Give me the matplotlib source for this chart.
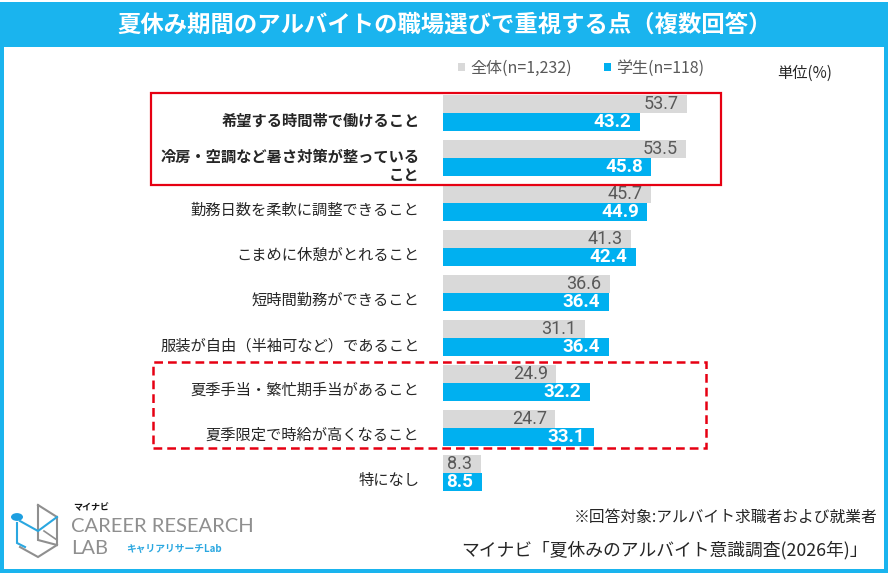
import matplotlib
matplotlib.use('Agg')
import matplotlib.pyplot as plt
from matplotlib.patches import Rectangle, Circle, Patch
from matplotlib.lines import Line2D

plt.rcParams['font.family'] = ['Noto Sans CJK JP', 'DejaVu Sans']

# ---------------- data ----------------
categories = [
    '希望する時間帯で働けること',
    '冷房・空調など暑さ対策が整っている\nこと',
    '勤務日数を柔軟に調整できること',
    'こまめに休憩がとれること',
    '短時間勤務ができること',
    '服装が自由（半袖可など）であること',
    '夏季手当・繁忙期手当があること',
    '夏季限定で時給が高くなること',
    '特になし',
]
overall = [53.7, 53.5, 45.7, 41.3, 36.6, 31.1, 24.9, 24.7, 8.3]
students = [43.2, 45.8, 44.9, 42.4, 36.4, 36.4, 32.2, 33.1, 8.5]
bold_rows = [0, 1]
series_labels = ['全体(n=1,232)', '学生(n=118)']

title = '夏休み期間のアルバイトの職場選びで重視する点（複数回答）'
unit_label = '単位(%)'
note = '※回答対象:アルバイト求職者および就業者'
source = 'マイナビ「夏休みのアルバイト意識調査(2026年)」'

# ---------------- style ----------------
FRAME_BLUE = '#1ab4ee'
BAR_BLUE = '#00b0f0'
BAR_GRAY = '#d9d9d9'
TEXT_GRAY = '#595959'
RED = '#e60012'
NUM_FONT = ['Roboto', 'DejaVu Sans']

W, H = 890, 581
fig = plt.figure(figsize=(W / 100, H / 100), dpi=100)


def fx(x):
    return x / W


def fy(y):
    return 1 - y / H


def frect(x0, y0, x1, y1, **kw):
    r = Rectangle((fx(x0), fy(y1)), (x1 - x0) / W, (y1 - y0) / H,
                  transform=fig.transFigure, **kw)
    fig.patches.append(r)
    return r


# frame and title band
frect(0, 2, 888, 573, facecolor=FRAME_BLUE, edgecolor='none', zorder=-3)
frect(4, 47, 884, 569, facecolor='white', edgecolor='none', zorder=-2)
fig.text(0.5, fy(25), title, ha='center', va='center', color='white',
         fontsize=16.8, fontweight='bold')

# ---------------- bar axes ----------------
px_per_unit = 4.55
x_left, row0, pitch = 443, 113, 45
top_px, bot_px = 90, 500
xmax = 60
ax = fig.add_axes([fx(x_left), fy(bot_px), xmax * px_per_unit / W, (bot_px - top_px) / H])
ax.set_facecolor('none')
ax.set_xlim(0, xmax)
ax.set_ylim((bot_px - row0) / pitch, (top_px - row0) / pitch)
ax.axis('off')

n = len(categories)
ys = list(range(n))
bh = 0.4
ax.barh([y - bh / 2 for y in ys], overall, height=bh, color=BAR_GRAY, zorder=2)
ax.barh([y + bh / 2 for y in ys], students, height=bh, color=BAR_BLUE, zorder=2)

for i, (a, s) in enumerate(zip(overall, students)):
    ax.annotate(f'{a:.1f}', xy=(a, i - bh / 2), xytext=(-6, 0), textcoords='offset points',
                ha='right', va='center', fontsize=13, color=TEXT_GRAY,
                family=NUM_FONT, zorder=3)
    ax.annotate(f'{s:.1f}', xy=(s, i + bh / 2), xytext=(-6, 0), textcoords='offset points',
                ha='right', va='center', fontsize=13.5, color='white', fontweight='bold',
                family=NUM_FONT, zorder=3)
    ax.annotate(categories[i], xy=(0, i + 0.17), xytext=(-17, 0), textcoords='offset points',
                ha='right', va='center', fontsize=11, color='#262626',
                fontweight='bold' if i in bold_rows else 'normal',
                linespacing=1.15, annotation_clip=False)

# highlight boxes
frect(151, 93, 721, 185, fill=False, edgecolor=RED, linewidth=1.6, zorder=5)
frect(153, 362, 706, 448, fill=False, edgecolor=RED, linewidth=1.8,
      linestyle=(0, (3.5, 2)), zorder=5)

# legend
handles = [Patch(facecolor=BAR_GRAY, edgecolor='none'), Patch(facecolor=BAR_BLUE, edgecolor='none')]
fig.legend(handles, series_labels, loc='center', bbox_to_anchor=(fx(581), fy(68)),
           ncol=2, frameon=False, fontsize=11.5, labelcolor=TEXT_GRAY,
           handlelength=0.45, handleheight=0.45, handletextpad=0.3, columnspacing=2.0)
fig.text(fx(805), fy(73), unit_label, ha='center', va='center', fontsize=11, color='#262626')

# footer texts
fig.text(fx(877), fy(517), note, ha='right', va='center', fontsize=11.3, color='#262626')
fig.text(fx(868), fy(550), source, ha='right', va='center', fontsize=12.8, color='#262626')

# logo
LOGO_GRAY = '#8f8f8f'


def fline(pts, color, lw):
    xs = [fx(p[0]) for p in pts]
    ys_ = [fy(p[1]) for p in pts]
    fig.lines.append(Line2D(xs, ys_, transform=fig.transFigure, color=color, lw=lw,
                            solid_joinstyle='miter'))


fline([(38, 505), (57, 517), (57, 545), (38, 557), (20, 547)], LOGO_GRAY, 1.5)
fline([(38, 505), (38, 540), (57, 545)], LOGO_GRAY, 1.5)
fline([(44, 531), (57, 540)], LOGO_GRAY, 1.2)
fline([(17, 523), (17, 543), (25, 547)], '#2aa7e0', 1.5)
fline([(20, 521), (38, 531), (57, 517)], '#2aa7e0', 1.5)
fig.patches.append(Circle((fx(17), fy(517)), 6 / W, transform=fig.transFigure,
                          facecolor='#1e9fe0', edgecolor='none'))
fig.text(fx(73), fy(508), 'マイナビ', ha='left', va='center', fontsize=6.5,
         fontweight='bold', color='#111111')
fig.text(fx(71), fy(527), 'CAREER RESEARCH', ha='left', va='center', fontsize=14.5,
         color=LOGO_GRAY, family=['Lato', 'DejaVu Sans'])
fig.text(fx(71), fy(549), 'LAB', ha='left', va='center', fontsize=14.5,
         color=LOGO_GRAY, family=['Lato', 'DejaVu Sans'])
fig.text(fx(126), fy(549), 'キャリアリサーチLab', ha='left', va='center', fontsize=7,
         fontweight='bold', color='#2aa7e0')

fig.savefig('out.png', dpi=100)
